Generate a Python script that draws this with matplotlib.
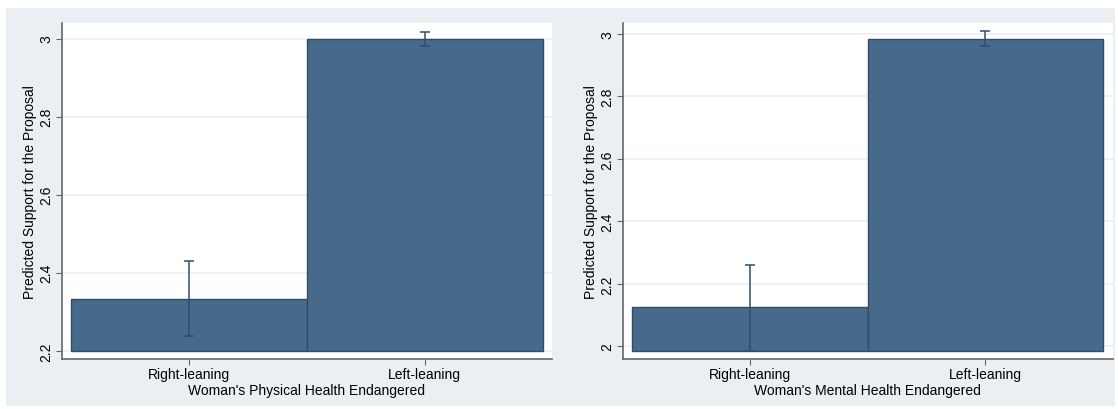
import matplotlib
matplotlib.use("Agg")
import matplotlib.pyplot as plt
from matplotlib.patches import Rectangle

# Predicted support by ideology, with 95% confidence intervals
groups = ["Right-leaning", "Left-leaning"]

physical_mean = [2.333, 2.999]
physical_lo = [2.237, 2.980]
physical_hi = [2.430, 3.018]
physical_base = 2.2

mental_mean = [2.126, 2.985]
mental_lo = [1.987, 2.960]
mental_hi = [2.262, 3.009]
mental_base = 1.987

physical_ticks = [2.2, 2.4, 2.6, 2.8, 3.0]
mental_ticks = [2.0, 2.2, 2.4, 2.6, 2.8, 3.0]

plt.rcParams["font.family"] = ["Liberation Sans", "DejaVu Sans"]

W, H = 1118, 410
fig = plt.figure(figsize=(W / 100, H / 100), dpi=100, facecolor="white")

# light graph-region background, on its own axes behind everything
bg = fig.add_axes([0, 0, 1, 1], zorder=-10)
bg.set_xlim(0, W)
bg.set_ylim(0, H)
bg.axis("off")
bg.add_patch(Rectangle((6, 3), 1115 - 6, 401 - 3, facecolor="#e9eff2",
                       edgecolor="none"))

bar_fill = "#476a8b"
bar_edge = "#2b4d70"
err_col = "#2e4e6e"
axis_col = "#666666"


def panel(left_px, mean, lo, hi, base, ylim, ticks, xlabel):
    ax = fig.add_axes([left_px / W, 50 / H, 490 / W, 336 / H])
    ax.set_facecolor("white")
    x = list(range(len(groups)))
    heights = [m - base for m in mean]
    ax.bar(x, heights, bottom=base, width=1.0, color=bar_fill,
           edgecolor=bar_edge, linewidth=1.0, zorder=2)
    yerr = [[m - l for m, l in zip(mean, lo)], [h - m for m, h in zip(mean, hi)]]
    ax.errorbar(x, mean, yerr=yerr, fmt="none", ecolor=err_col,
                elinewidth=1.1, capsize=3.5, capthick=1.1, zorder=3)
    ax.set_xlim(-0.54, 1.54)
    ax.set_ylim(*ylim)
    ax.set_yticks(ticks)
    ax.set_yticklabels([f"{t:g}" for t in ticks], rotation=90, va="center",
                       fontsize=10)
    ax.set_xticks(x)
    ax.set_xticklabels(groups, fontsize=10)
    ax.grid(axis="y", color="#eaf0f3", linewidth=1.2, zorder=0)
    ax.set_axisbelow(True)
    for s in ("top", "right"):
        ax.spines[s].set_visible(False)
    for s in ("left", "bottom"):
        ax.spines[s].set_color(axis_col)
        ax.spines[s].set_linewidth(1.2)
    ax.tick_params(axis="both", colors=axis_col, labelcolor="black",
                   length=4, width=0.8, pad=2)
    ax.set_ylabel("Predicted Support for the Proposal", fontsize=10,
                  labelpad=2)
    ax.set_xlabel(xlabel, fontsize=10, labelpad=1)
    return ax


panel(62, physical_mean, physical_lo, physical_hi, physical_base,
      (2.179, 3.04), physical_ticks, "Woman's Physical Health Endangered")
panel(622.7, mental_mean, mental_lo, mental_hi, mental_base,
      (1.96, 3.035), mental_ticks, "Woman's Mental Health Endangered")

fig.savefig("out.png", dpi=100, facecolor="white")
